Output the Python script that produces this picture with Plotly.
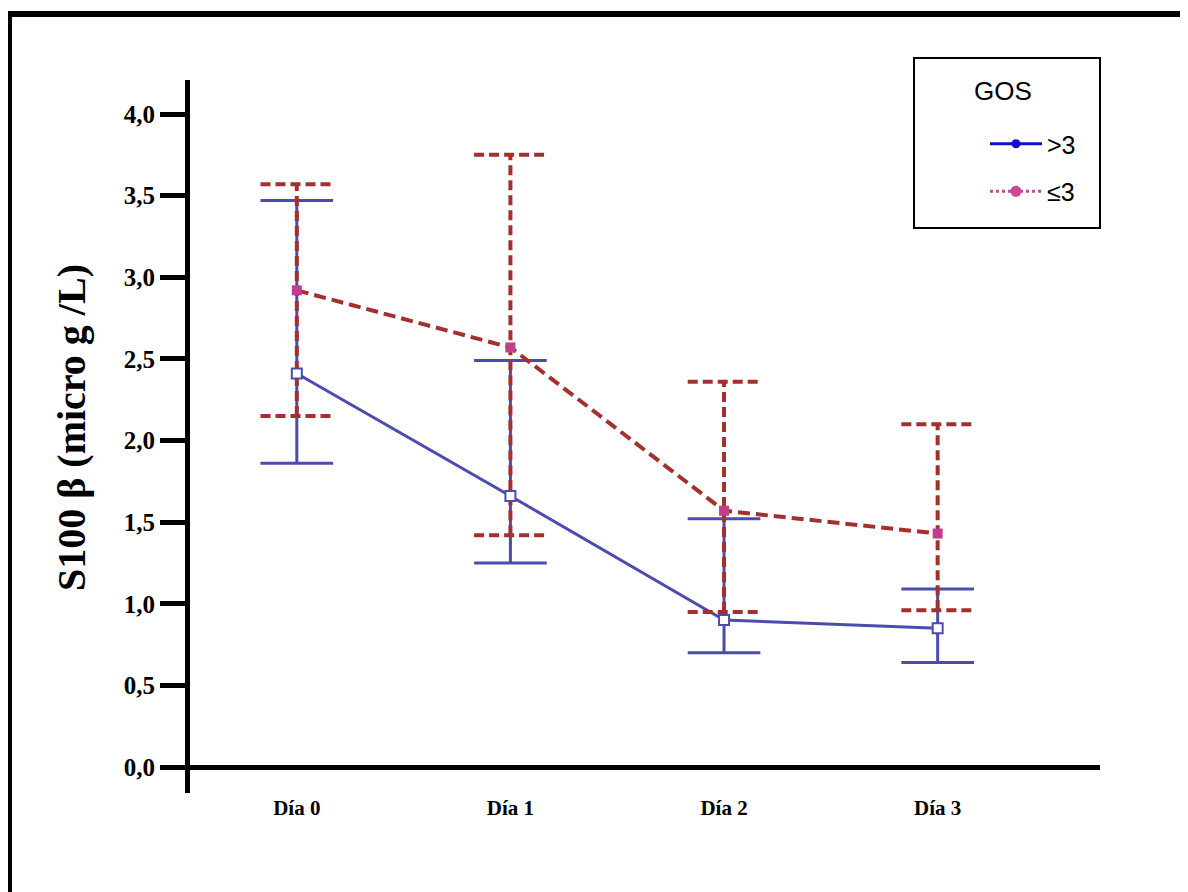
import plotly.graph_objects as go

# ---- data ----
days = ["Día 0", "Día 1", "Día 2", "Día 3"]
gt3_mean = [2.41, 1.66, 0.90, 0.85]
gt3_upper = [3.47, 2.49, 1.52, 1.09]
gt3_lower = [1.86, 1.25, 0.70, 0.64]
le3_mean = [2.92, 2.57, 1.57, 1.43]
le3_upper = [3.57, 3.75, 2.36, 2.10]
le3_lower = [2.15, 1.42, 0.95, 0.96]
y_ticks = [0, 0.5, 1.0, 1.5, 2.0, 2.5, 3.0, 3.5, 4.0]
y_ticktext = ["0,0", "0,5", "1,0", "1,5", "2,0", "2,5", "3,0", "3,5", "4,0"]

BLUE = "#4C4CAE"
RED = "#A3302C"
MAG = "#C23E8C"
CAP = 0.17
xs = list(range(len(days)))


def err_path(lower, upper):
    ex, ey = [], []
    for i, lo, hi in zip(xs, lower, upper):
        ex += [i, i, None, i - CAP, i + CAP, None, i - CAP, i + CAP, None]
        ey += [lo, hi, None, lo, lo, None, hi, hi, None]
    return ex, ey


fig = go.Figure()

bx, by = err_path(gt3_lower, gt3_upper)
fig.add_trace(go.Scatter(x=bx, y=by, mode="lines", line=dict(color=BLUE, width=3),
                         showlegend=False, hoverinfo="skip"))
fig.add_trace(go.Scatter(x=xs, y=gt3_mean, mode="lines", line=dict(color=BLUE, width=3),
                         showlegend=False))
rx, ry = err_path(le3_lower, le3_upper)
fig.add_trace(go.Scatter(x=rx, y=ry, mode="lines",
                         line=dict(color=RED, width=4, dash="10px,5px"),
                         showlegend=False, hoverinfo="skip"))
fig.add_trace(go.Scatter(x=xs, y=le3_mean, mode="lines",
                         line=dict(color=RED, width=4, dash="12px,6px"),
                         showlegend=False))
fig.add_trace(go.Scatter(x=xs, y=gt3_mean, mode="markers",
                         marker=dict(symbol="square", size=10, color="white",
                                     line=dict(color=BLUE, width=2)),
                         showlegend=False))
fig.add_trace(go.Scatter(x=xs, y=le3_mean, mode="markers",
                         marker=dict(symbol="square", size=10, color=MAG,
                                     line=dict(color=MAG, width=0)),
                         showlegend=False))

# legend entries
fig.add_trace(go.Scatter(x=[None], y=[None], mode="lines+markers", name=">3",
                         legendgroup="a",
                         line=dict(color="#1010C8", width=3),
                         marker=dict(symbol="circle", size=9, color="#1010C8")))
fig.add_trace(go.Scatter(x=[None], y=[None], mode="lines+markers", name="≤3",
                         legendgroup="b",
                         line=dict(color="#C44A96", width=3, dash="dot"),
                         marker=dict(symbol="circle", size=11, color="#C44A96")))

OFF = 8  # page body margin
W, H = 1188, 892
L = 190 - OFF
T = 80 - OFF
R = W - (1100 - OFF)
B = H - (793 - OFF)
pw, ph = W - L - R, H - T - B


def px_x(p):
    return (p - OFF - L) / pw


def px_y(p):
    return (H - B - (p - OFF)) / ph


fig.update_layout(
    width=W, height=H,
    margin=dict(l=L, r=R, t=T, b=B),
    paper_bgcolor="white", plot_bgcolor="white",
    showlegend=True,
    legend=dict(x=px_x(985), y=px_y(121), xanchor="left", yanchor="top",
                bgcolor="rgba(0,0,0,0)", borderwidth=0,
                font=dict(family="Liberation Sans", size=25, color="black"),
                tracegroupgap=12, traceorder="grouped", itemwidth=52),
    xaxis=dict(range=[-0.5, 3.76], tickvals=xs, ticktext=days, showline=False,
               showgrid=False, zeroline=False, ticks="",
               tickfont=dict(family="Liberation Serif", size=21, color="black",
                             weight="bold")),
    yaxis=dict(range=[-(793 - 767) / 163.25, 4 + (114 - 80) / 163.25],
               tickvals=y_ticks, ticktext=y_ticktext, showline=True, linewidth=5,
               linecolor="black", ticks="outside", ticklen=25, tickwidth=5,
               tickcolor="black", showgrid=False, zeroline=True, zerolinewidth=5,
               zerolinecolor="black",
               tickfont=dict(family="Liberation Serif", size=25, color="black",
                             weight="bold")),
)

# legend box
fig.add_shape(type="rect", xref="paper", yref="paper",
              x0=px_x(914), x1=px_x(1100), y0=px_y(228), y1=px_y(58),
              line=dict(color="black", width=2), fillcolor="rgba(0,0,0,0)")
fig.add_annotation(text="GOS", xref="paper", yref="paper", x=px_x(1003), y=px_y(91),
                   xanchor="center", yanchor="middle", showarrow=False,
                   font=dict(family="Liberation Sans", size=26, color="black"))

# y axis title
fig.add_annotation(text="S100 β (micro g /L)", xref="paper", yref="paper",
                   x=px_x(72), y=px_y(427), xanchor="center", yanchor="middle",
                   textangle=-90, showarrow=False,
                   font=dict(family="Liberation Serif", size=40, color="black",
                             weight="bold"))

# outer frame
fig.add_shape(type="line", xref="paper", yref="paper", x0=px_x(7), x1=px_x(1190),
              y0=px_y(14), y1=px_y(14), line=dict(color="black", width=6))
fig.add_shape(type="line", xref="paper", yref="paper", x0=px_x(10), x1=px_x(10),
              y0=px_y(12), y1=px_y(900), line=dict(color="black", width=4))
fig.add_shape(type="line", xref="paper", yref="paper", x0=px_x(1184), x1=px_x(1184),
              y0=px_y(12), y1=px_y(900), line=dict(color="black", width=2))

fig.write_html("out.html")
